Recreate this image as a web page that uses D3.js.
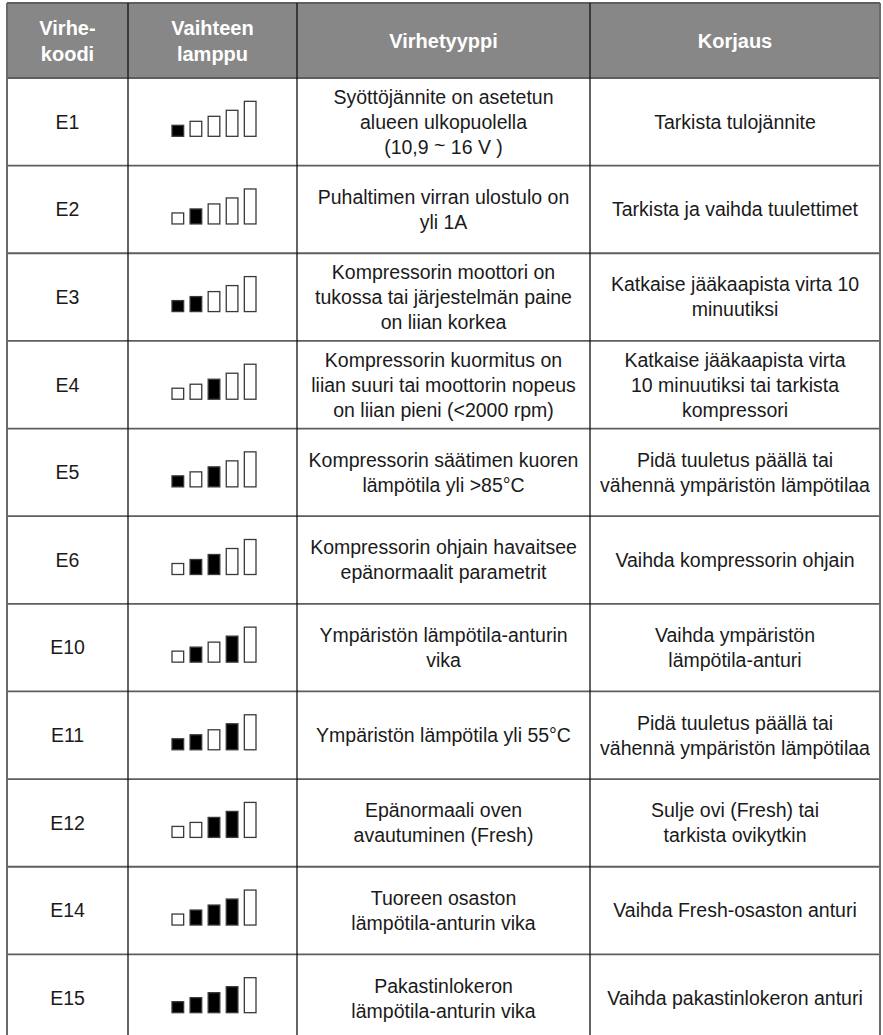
<!DOCTYPE html>
<meta charset="utf-8">
<head>
<style>
body { margin: 0; background: #fff; }
svg text { font-family: "Liberation Sans", Arial, sans-serif; }
</style>
<script src="https://d3js.org/d3.v7.min.js"></script>
</head>
<body>
<div id="table"></div>
<script>
// table content
var headers = [["Virhe-", "koodi"], ["Vaihteen", "lamppu"], ["Virhetyyppi"], ["Korjaus"]];
var codes = ["E1", "E2", "E3", "E4", "E5", "E6", "E10", "E11", "E12", "E14", "E15"];
// which of the first four lamps is lit (the fifth is always off)
var lamps = ["1000", "0100", "1100", "0010", "1010", "0110", "0101", "1101", "0011", "0111", "1111"];
var faults = [
  ["Syöttöjännite on asetetun", "alueen ulkopuolella", "(10,9 ~ 16 V )"],
  ["Puhaltimen virran ulostulo on", "yli 1A"],
  ["Kompressorin moottori on", "tukossa tai järjestelmän paine", "on liian korkea"],
  ["Kompressorin kuormitus on", "liian suuri tai moottorin nopeus", "on liian pieni (<2000 rpm)"],
  ["Kompressorin säätimen kuoren", "lämpötila yli >85°C"],
  ["Kompressorin ohjain havaitsee", "epänormaalit parametrit"],
  ["Ympäristön lämpötila-anturin", "vika"],
  ["Ympäristön lämpötila yli 55°C"],
  ["Epänormaali oven", "avautuminen (Fresh)"],
  ["Tuoreen osaston", "lämpötila-anturin vika"],
  ["Pakastinlokeron", "lämpötila-anturin vika"]
];
var fixes = [
  ["Tarkista tulojännite"],
  ["Tarkista ja vaihda tuulettimet"],
  ["Katkaise jääkaapista virta 10", "minuutiksi"],
  ["Katkaise jääkaapista virta", "10 minuutiksi tai tarkista", "kompressori"],
  ["Pidä tuuletus päällä tai", "vähennä ympäristön lämpötilaa"],
  ["Vaihda kompressorin ohjain"],
  ["Vaihda ympäristön", "lämpötila-anturi"],
  ["Pidä tuuletus päällä tai", "vähennä ympäristön lämpötilaa"],
  ["Sulje ovi (Fresh) tai", "tarkista ovikytkin"],
  ["Vaihda Fresh-osaston anturi"],
  ["Vaihda pakastinlokeron anturi"]
];

var width = 883,
    height = 1035,
    colEdges = [7, 128, 297, 590, 880],
    headTop = 3,
    headBottom = 78,
    fontSize = 19.5,
    lineHeight = 25,
    barHeights = [12, 16, 21, 27, 36];

var y = d3.scaleBand()
    .domain(codes)
    .range([headBottom, 1042]);

var barX = d3.scaleBand()
    .domain(d3.range(5))
    .range([-42, 43])
    .paddingInner(0.3);

var svg = d3.select("#table").append("svg")
    .attr("width", width)
    .attr("height", height);

function multiline(sel, lines, cx, cy, size, lh, fill, weight) {
  var t = sel.append("text")
      .attr("text-anchor", "middle")
      .attr("font-size", size)
      .attr("font-weight", weight || "normal")
      .attr("fill", fill);
  lines.forEach(function(s, i) {
    var ly = cy + (i - (lines.length - 1) / 2) * lh + size * 0.35;
    var parts = s.split("~");
    t.append("tspan").attr("x", cx).attr("y", ly).text(parts[0]);
    if (parts.length > 1) {
      // the tilde sits a bit raised in the source; dy keeps one text chunk
      t.append("tspan").attr("dy", -2).text("~");
      t.append("tspan").attr("dy", 2).text(parts[1]);
    }
  });
  return t;
}

// header
svg.append("rect")
    .attr("x", colEdges[0])
    .attr("y", headTop)
    .attr("width", colEdges[4] - colEdges[0])
    .attr("height", headBottom - headTop)
    .attr("fill", "#878787");

headers.forEach(function(h, i) {
  multiline(svg, h, (colEdges[i] + colEdges[i + 1]) / 2, (headTop + headBottom) / 2, 20, 26, "#fff", "bold")
      .style("font-family", "'Liberation Sans Narrow', 'Arial Narrow', sans-serif")
      .style("font-stretch", "condensed");
});

// rows
codes.forEach(function(code, r) {
  var cy = y(code) + y.bandwidth() / 2;
  multiline(svg, [code], (colEdges[0] + colEdges[1]) / 2, cy, fontSize, lineHeight, "#1a1a1a");
  multiline(svg, faults[r], (colEdges[2] + colEdges[3]) / 2, cy, fontSize, lineHeight, "#1a1a1a");
  multiline(svg, fixes[r], (colEdges[3] + colEdges[4]) / 2, cy, fontSize, lineHeight, "#1a1a1a");

  var cx = (colEdges[1] + colEdges[2]) / 2 + 1;
  var g = svg.append("g").attr("transform", "translate(" + cx + "," + (cy + 15) + ")");
  g.selectAll("rect")
    .data(d3.range(5))
    .enter().append("rect")
      .attr("x", function(i) { return barX(i) + 0.5; })
      .attr("y", function(i) { return -barHeights[i] + 0.5; })
      .attr("width", barX.bandwidth() - 1)
      .attr("height", function(i) { return barHeights[i] - 1; })
      .attr("fill", function(i) { return lamps[r][i] === "1" ? "#000" : "#fff"; })
      .attr("stroke", "#3a3a3a")
      .attr("stroke-width", 1.3);
});

// grid lines
var hLines = [headTop, headBottom].concat(codes.slice(1).map(function(c) { return y(c); }));
svg.selectAll(".hl")
  .data(hLines)
  .enter().append("line")
    .attr("class", "hl")
    .attr("x1", colEdges[0])
    .attr("x2", colEdges[4])
    .attr("y1", function(d) { return d; })
    .attr("y2", function(d) { return d; })
    .attr("stroke", "#5e5e5e")
    .attr("stroke-width", 1.8);

svg.selectAll(".vl")
  .data(colEdges)
  .enter().append("line")
    .attr("class", "vl")
    .attr("x1", function(d) { return d; })
    .attr("x2", function(d) { return d; })
    .attr("y1", headTop)
    .attr("y2", height)
    .attr("stroke", function(d, i) { return i === 0 || i === 4 ? "#6a6a6a" : "#111"; })
    .attr("stroke-width", function(d, i) { return i === 0 || i === 4 ? 2 : 1.3; });
</script>
</body>
